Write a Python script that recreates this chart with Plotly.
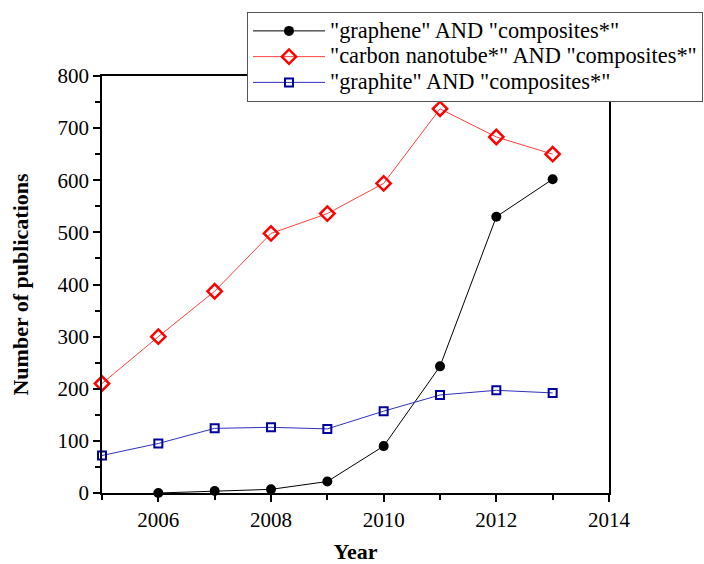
import plotly.graph_objects as go

years_graphene = [2006, 2007, 2008, 2009, 2010, 2011, 2012, 2013]
graphene = [0, 4, 7, 22, 90, 243, 530, 602]
years_all = [2005, 2006, 2007, 2008, 2009, 2010, 2011, 2012, 2013]
cnt = [210, 300, 387, 498, 536, 594, 737, 683, 650]
graphite = [72, 95, 124, 126, 123, 157, 188, 197, 192]

FONT = "Liberation Serif"


def lg(s):
    return '<span style="font-size:22.4px">' + s + '</span>'


fig = go.Figure()
fig.add_trace(go.Scatter(
    x=years_graphene, y=graphene, mode="lines+markers",
    name=lg('"graphene" AND "composites*"'),
    line=dict(color="black", width=1),
    marker=dict(symbol="circle", size=10, color="black"),
    cliponaxis=False))
fig.add_trace(go.Scatter(
    x=years_all, y=cnt, mode="lines+markers",
    name=lg('"carbon nanotube*" AND "composites*"'),
    line=dict(color="#ff4040", width=1),
    marker=dict(symbol="diamond-open", size=11, color="red", line=dict(width=2.5, color="red")),
    cliponaxis=False))
fig.add_trace(go.Scatter(
    x=years_all, y=graphite, mode="lines+markers",
    name=lg('"graphite" AND "composites*"'),
    line=dict(color="#3030c0", width=1),
    marker=dict(symbol="square-open", size=8, color="#0000a0", line=dict(width=2, color="#0000a0")),
    cliponaxis=False))

axis_common = dict(
    showgrid=False, zeroline=False, showline=True, linecolor="black", linewidth=1.5,
    mirror=True, ticks="outside", tickcolor="black", tickwidth=1.5,
    tickfont=dict(family=FONT, size=21, color="black"), automargin=False,
)

L, R, T, B = 102, 95, 76, 71
PW, PH = 704 - L - R, 564 - T - B

fig.update_layout(
    width=704, height=564,
    margin=dict(l=L, r=R, t=T, b=B, autoexpand=False),
    plot_bgcolor="white", paper_bgcolor="white",
    font=dict(family=FONT, color="black"),
    xaxis=dict(range=[2005, 2014], tickmode="linear", tick0=2006, dtick=2,
               ticklen=7,
               minor=dict(tick0=2005, dtick=1, ticks="outside", ticklen=5,
                          tickcolor="black", tickwidth=1.5, showgrid=False),
               title=dict(text="<b>Year</b>", font=dict(family=FONT, size=22), standoff=18),
               **axis_common),
    yaxis=dict(range=[0, 800], tickmode="linear", tick0=0, dtick=100,
               ticklen=7,
               minor=dict(tick0=0, dtick=50, ticks="outside", ticklen=5,
                          tickcolor="black", tickwidth=1.5, showgrid=False),
               title=dict(text="<b>Number of publications</b>", font=dict(family=FONT, size=22), standoff=23),
               **axis_common),
    legend=dict(
        x=(247 - L) / PW, y=1 + (T - 12) / PH, xanchor="left", yanchor="top",
        bgcolor="white", bordercolor="#555555", borderwidth=1,
        font=dict(family=FONT, size=17.5, color="black"),
        tracegroupgap=0, itemwidth=72,
    ),
    showlegend=True,
)

fig.write_html("out.html")
